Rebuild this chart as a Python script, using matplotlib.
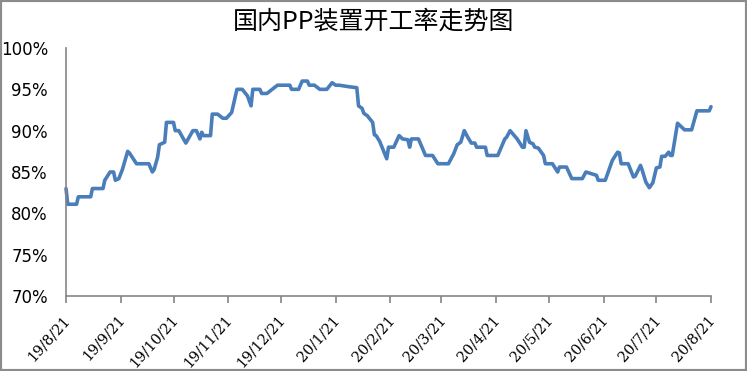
import numpy as np
import pandas as pd
import matplotlib
matplotlib.use('Agg')
import matplotlib.pyplot as plt
import matplotlib.ticker as plticker
import matplotlib.transforms as mtransforms
from matplotlib.patches import Rectangle

#Data (operating rate, %)
dates = ['2019-08-21', '2019-08-22', '2019-08-27', '2019-08-28', '2019-09-04', '2019-09-05',
         '2019-09-11', '2019-09-12', '2019-09-15', '2019-09-17', '2019-09-18', '2019-09-20',
         '2019-09-22', '2019-09-25', '2019-09-26', '2019-09-30', '2019-10-07', '2019-10-09',
         '2019-10-10', '2019-10-12', '2019-10-13', '2019-10-16', '2019-10-17', '2019-10-21',
         '2019-10-22', '2019-10-24', '2019-10-28', '2019-11-01', '2019-11-03', '2019-11-05',
         '2019-11-06', '2019-11-07', '2019-11-11', '2019-11-12', '2019-11-15', '2019-11-18',
         '2019-11-20', '2019-11-23', '2019-11-26', '2019-11-29', '2019-12-02', '2019-12-04',
         '2019-12-05', '2019-12-09', '2019-12-10', '2019-12-13', '2019-12-19', '2019-12-26',
         '2019-12-27', '2019-12-31', '2020-01-02', '2020-01-05', '2020-01-06', '2020-01-09',
         '2020-01-12', '2020-01-16', '2020-01-19', '2020-01-21', '2020-01-23', '2020-01-29',
         '2020-02-02', '2020-02-03', '2020-02-05', '2020-02-06', '2020-02-08', '2020-02-11',
         '2020-02-12', '2020-02-13', '2020-02-15', '2020-02-19', '2020-02-20', '2020-02-23',
         '2020-02-26', '2020-02-28', '2020-03-02', '2020-03-03', '2020-03-04', '2020-03-08',
         '2020-03-10', '2020-03-12', '2020-03-16', '2020-03-19', '2020-03-25', '2020-03-28',
         '2020-03-30', '2020-04-01', '2020-04-03', '2020-04-05', '2020-04-07', '2020-04-09',
         '2020-04-10', '2020-04-15', '2020-04-16', '2020-04-22', '2020-04-26', '2020-04-27',
         '2020-04-29', '2020-05-03', '2020-05-06', '2020-05-07', '2020-05-08', '2020-05-10',
         '2020-05-12', '2020-05-13', '2020-05-15', '2020-05-18', '2020-05-19', '2020-05-23',
         '2020-05-26', '2020-05-27', '2020-05-31', '2020-06-03', '2020-06-09', '2020-06-11',
         '2020-06-14', '2020-06-17', '2020-06-18', '2020-06-22', '2020-06-24', '2020-06-26',
         '2020-06-29', '2020-06-30', '2020-07-01', '2020-07-05', '2020-07-08', '2020-07-09',
         '2020-07-12', '2020-07-13', '2020-07-15', '2020-07-17', '2020-07-19', '2020-07-21',
         '2020-07-23', '2020-07-24', '2020-07-26', '2020-07-28', '2020-07-29', '2020-07-30',
         '2020-08-02', '2020-08-06', '2020-08-10', '2020-08-13', '2020-08-20', '2020-08-21']
rates = [83.0, 81.1, 81.1, 82.0, 82.0, 83.0,
         83.0, 84.0, 85.0, 85.0, 84.0, 84.2,
         85.3, 87.5, 87.3, 86.0, 86.0, 85.0,
         85.3, 86.8, 88.3, 88.6, 91.0, 91.0,
         90.0, 90.0, 88.5, 90.0, 90.0, 89.0,
         89.8, 89.4, 89.4, 92.0, 92.0, 91.5,
         91.5, 92.2, 95.0, 95.0, 94.2, 93.0,
         95.0, 95.0, 94.5, 94.5, 95.5, 95.5,
         95.0, 95.0, 96.0, 96.0, 95.5, 95.5,
         95.0, 95.0, 95.8, 95.5, 95.5, 95.3,
         95.2, 93.0, 92.7, 92.1, 91.8, 91.0,
         89.5, 89.4, 88.7, 86.6, 88.0, 88.0,
         89.4, 89.0, 88.9, 88.0, 89.0, 89.0,
         88.0, 87.0, 87.0, 86.0, 86.0, 87.2,
         88.3, 88.6, 90.0, 89.2, 88.5, 88.5,
         88.0, 88.0, 87.0, 87.0, 89.0, 89.2,
         90.0, 89.0, 88.0, 88.0, 90.0, 88.6,
         88.4, 88.0, 87.9, 87.0, 86.0, 86.0,
         85.0, 85.6, 85.6, 84.2, 84.2, 85.0,
         84.8, 84.6, 84.0, 84.0, 85.2, 86.4,
         87.4, 87.3, 86.0, 86.0, 84.4, 84.5,
         85.8, 85.2, 83.8, 83.1, 83.7, 85.5,
         85.6, 86.9, 86.9, 87.4, 87.0, 87.0,
         90.9, 90.1, 90.1, 92.4, 92.4, 92.9]

tick_dates = ['2019-08-21', '2019-09-21', '2019-10-21', '2019-11-21', '2019-12-21', '2020-01-21',
              '2020-02-21', '2020-03-21', '2020-04-21', '2020-05-21', '2020-06-21', '2020-07-21',
              '2020-08-21']
tick_labels = ['19/8/21', '19/9/21', '19/10/21', '19/11/21', '19/12/21', '20/1/21',
               '20/2/21', '20/3/21', '20/4/21', '20/5/21', '20/6/21', '20/7/21', '20/8/21']

title = '国内PP装置开工率走势图'

#Figure and plot area
fig = plt.figure(figsize=(7.47, 3.71), dpi=100)
ax = fig.add_axes([66 / 747, 75 / 371, 645 / 747, 248 / 371])

ax.plot(pd.to_datetime(dates), rates, color='#4a7ebb', lw=2.6,
        solid_joinstyle='round', solid_capstyle='round', clip_on=False)

ax.set_xlim(pd.Timestamp(tick_dates[0]), pd.Timestamp(tick_dates[-1]))
ax.set_ylim(70, 100)

#Axes styling
for side in ['top', 'right']:
    ax.spines[side].set_visible(False)
for side in ['left', 'bottom']:
    ax.spines[side].set_color('#868686')
    ax.spines[side].set_linewidth(1.2)

ax.yaxis.set_major_locator(plticker.MultipleLocator(5))
ax.yaxis.set_minor_locator(plticker.MultipleLocator(10))
ax.yaxis.set_major_formatter(plticker.FuncFormatter(lambda v, p: f'{v:.0f}%'))
ax.tick_params(axis='y', which='major', length=0, pad=13, labelsize=12)
ax.tick_params(axis='y', which='minor', direction='in', length=5, color='#868686', width=1.2)
for lab in ax.get_yticklabels():
    lab.set_family('DejaVu Sans')

ax.set_xticks(pd.to_datetime(tick_dates))
ax.set_xticklabels(tick_labels, rotation=48, ha='right', va='top',
                   family='DejaVu Serif', fontsize=10.5)
ax.tick_params(axis='x', direction='out', length=5, color='#868686', width=1.2, pad=7)
shift = mtransforms.ScaledTranslation(7 / 100, 0, fig.dpi_scale_trans)
for lab in ax.get_xticklabels():
    lab.set_transform(lab.get_transform() + shift)

fig.text(0.5, 1 - 22 / 371, title, ha='center', va='center', fontsize=18,
         family=['Noto Sans CJK SC', 'DejaVu Sans'])

#Outer frame
fig.patches.append(Rectangle((0, 0), 1, 1, transform=fig.transFigure, fill=False,
                             edgecolor='#8c8c8c', lw=3))

fig.savefig('out.png', dpi=100)
